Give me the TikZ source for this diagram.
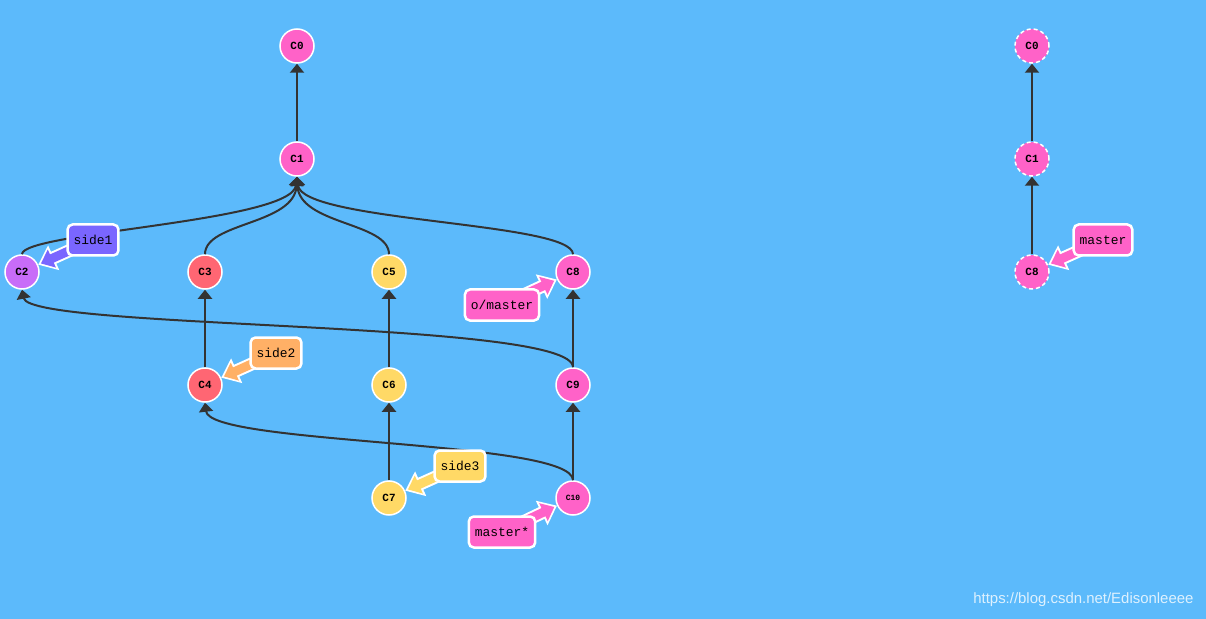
\documentclass[tikz,border=0pt]{standalone}
\usepackage{fontspec}
\setmonofont{Liberation Mono}
\setsansfont{Liberation Sans}
\usetikzlibrary{arrows.meta}
\definecolor{bgblue}{HTML}{5CBAFB}
\definecolor{cpink}{HTML}{FF62C8}
\definecolor{cpurple}{HTML}{C86CF8}
\definecolor{cred}{HTML}{FF6673}
\definecolor{cyellow}{HTML}{FFD966}
\definecolor{tviolet}{HTML}{7A66FF}
\definecolor{torange}{HTML}{FFB066}
\definecolor{edgegray}{HTML}{333333}
\begin{document}
\begin{tikzpicture}[x=1bp,y=-1bp,
  commit/.style={circle,fill=#1,draw=white,line width=1.5bp,minimum size=34bp,inner sep=0pt,
    font=\ttfamily\bfseries\fontsize{11}{12}\selectfont},
  ghost/.style={commit=cpink,dash pattern=on 4bp off 3bp},
  tag/.style={rounded corners=5bp,fill=#1,draw=white,line width=2.5bp,inner xsep=6bp,
    minimum height=31bp,font=\ttfamily\fontsize{13}{15}\selectfont},
  tagback/.style={-{Triangle[length=17bp,width=26bp]},line width=13bp,draw=white},
  tagfront/.style={-{Triangle[length=12bp,width=19bp]},line width=9bp,draw=#1,shorten >=3bp},
  parent/.style={-{Triangle[length=9bp,width=14bp]},line width=2bp,draw=edgegray}]
\fill[bgblue] (0,0) rectangle (1206,619);
\useasboundingbox (0,0) rectangle (1206,619);
% commits
\node[commit=cpink] (c0) at (297,46) {C0};
\node[commit=cpink] (c1) at (297,159) {C1};
\node[commit=cpurple] (c2) at (22,272) {C2};
\node[commit=cred] (c3) at (205,272) {C3};
\node[commit=cyellow] (c5) at (389,272) {C5};
\node[commit=cpink] (c8) at (573,272) {C8};
\node[commit=cred] (c4) at (205,385) {C4};
\node[commit=cyellow] (c6) at (389,385) {C6};
\node[commit=cpink] (c9) at (573,385) {C9};
\node[commit=cyellow] (c7) at (389,498) {C7};
\node[commit=cpink] (c10) at (573,498) {\fontsize{8}{9}\selectfont C10};
% remote copy
\node[ghost] (r0) at (1032,46) {C0};
\node[ghost] (r1) at (1032,159) {C1};
\node[ghost] (r8) at (1032,272) {C8};
% edges
\draw[parent] (c1) -- (c0);
\draw[parent] (c2.north) .. controls (22,232) and (292,222) .. (c1.south);
\draw[parent] (c3.north) .. controls (205,222) and (295,225) .. (c1.south);
\draw[parent] (c5.north) .. controls (389,222) and (299,225) .. (c1.south);
\draw[parent] (c8.north) .. controls (573,222) and (302,222) .. (c1.south);
\draw[parent] (c4) -- (c3);
\draw[parent] (c6) -- (c5);
\draw[parent] (c7) -- (c6);
\draw[parent] (c9) -- (c8);
\draw[parent] (c10) -- (c9);
\draw[parent] (c9.north) .. controls (573,320) and (30,330) .. (c2.south);
\draw[parent] (c10.north) .. controls (573,440) and (210,445) .. (c4.south);
\draw[parent] (r1) -- (r0);
\draw[parent] (r8) -- (r1);
% branch tags
\coordinate (side1) at (93,240);
\coordinate (side2) at (276,353);
\coordinate (side3) at (460,466);
\coordinate (omaster) at (502,305);
\coordinate (master) at (502,532);
\coordinate (rmaster) at (1103,240);
\foreach \t/\c/\col in {side1/c2/tviolet,side2/c4/torange,side3/c7/cyellow,
    omaster/c8/cpink,master/c10/cpink,rmaster/r8/cpink}{
  \draw[tagback] (\t) -- (\c);
  \draw[tagfront=\col] (\t) -- (\c);
}
\node[tag=tviolet] (side1tag) at (side1) {side1};
\node[tag=torange] (side2tag) at (side2) {side2};
\node[tag=cyellow] (side3tag) at (side3) {side3};
\node[tag=cpink] (omastertag) at (omaster) {o/master};
\node[tag=cpink] (mastertag) at (master) {master*};
\node[tag=cpink] (rmastertag) at (rmaster) {master};
\node[text=white!80!bgblue,font=\sffamily\fontsize{15}{17}\selectfont,anchor=east] (mark) at (1197,600) {https://blog.csdn.net/Edisonleeee};
\end{tikzpicture}
\end{document}
